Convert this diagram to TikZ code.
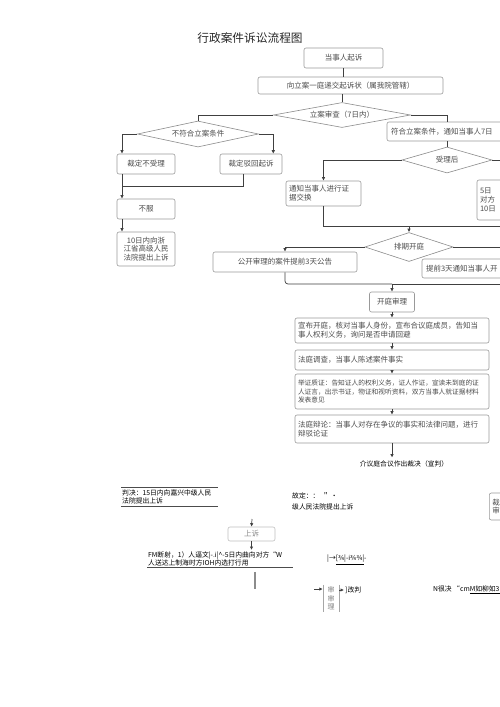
\documentclass[tikz,border=0pt]{standalone}
\usepackage{fontspec}
\setmainfont{Noto Sans CJK SC}
\usepackage{tikz}
\usetikzlibrary{shapes.geometric,positioning,arrows.meta}
\usepackage{xcolor}

\begin{document}
\begin{tikzpicture}[x=1pt, y=-1pt, >={Latex[length=3.5pt,width=3.5pt]},
	box/.style={draw=black!40, rectangle, rounded corners=2pt, line width=0.6pt, text=black!70, inner sep=2pt, font=\fontsize{7.5}{8.7}\selectfont},
	dia/.style={draw=black!45, diamond, line width=0.6pt, text=black!70, inner sep=0pt, font=\fontsize{7.5}{8.7}\selectfont},
	flow/.style={draw=black!75, line width=0.7pt},
	plain/.style={text=black, inner sep=1pt, align=left, font=\fontsize{6.8}{8}\selectfont}]
	\clip (0,0) rectangle (500,707);
	\fill[white] (0,0) rectangle (500,707);
	\node[text=black!85, font=\fontsize{11.7}{12}\selectfont] (title) at (250,38) {行政案件诉讼流程图};

	\node[box, minimum width=79pt, minimum height=20pt] (start) at (343.5,58) {当事人起诉};
	\node[box, minimum width=185pt, minimum height=17pt] (submit) at (350.5,85.5) {向立案一庭递交起诉状（属我院管辖）};
	\node[dia, aspect=5.5, minimum width=137pt, minimum height=25pt] (review) at (342,115) {立案审查（7日内）};
	\node[dia, aspect=4.6, minimum width=121pt, minimum height=26pt] (reject) at (198,134) {不符合立案条件};
	\node[box, minimum width=120pt, minimum height=19pt, text width=112pt, align=left] (accept) at (447,131.5) {符合立案条件，通知当事人7日};
	\node[dia, aspect=3.5, minimum width=90pt, minimum height=26pt] (accepted) at (447,160) {受理后};

	\coordinate (leftrail) at (122,0);
	\coordinate (join1) at (122,186);
	\node[box, minimum width=58pt, minimum height=20pt] (nosue) at (146,164) {裁定不受理};
	\node[box, minimum width=62pt, minimum height=20pt] (dismiss) at (251,164) {裁定驳回起诉};
	\node[box, minimum width=58pt, minimum height=20pt] (refuse) at (146,209) {不服};
	\node[box, minimum width=58pt, minimum height=34pt, align=center] (appeal10) at (146,249) {10日内向浙\\江省高级人民\\法院提出上诉};

	\node[box, minimum width=75pt, minimum height=25pt, text width=69pt, align=left] (exchange) at (323.5,193.5) {通知当事人进行证\\据交换};
	\node[box, minimum width=86pt, minimum height=40pt, text width=80pt, align=left] (notify5) at (520,200) {5日\\对方\\10日};
	\coordinate (merge) at (409,226);
	\node[dia, aspect=3, minimum width=88pt, minimum height=29pt] (schedule) at (409,247) {排期开庭};
	\node[box, minimum width=144pt, minimum height=20pt] (publish) at (285,262) {公开审理的案件提前3天公告};
	\node[box, minimum width=196pt, minimum height=19pt, text width=188pt, align=left] (notice3) at (520,268.5) {提前3天通知当事人开};
	\coordinate (merge2) at (392,284);

	\node[box, minimum width=45pt, minimum height=20pt] (trial) at (392,302) {开庭审理};
	\node[box, below of=trial, node distance=28.5pt, minimum width=194pt, minimum height=25pt, text width=188pt, align=left] (announce) {宣布开庭，核对当事人身份，宣布合议庭成员，告知当\\事人权利义务，询问是否申请回避};
	\node[box, below of=announce, node distance=29.5pt, minimum width=194pt, minimum height=20pt, text width=188pt, align=left] (investigate) {法庭调查，当事人陈述案件事实};
	\node[box, below of=investigate, node distance=31.5pt, minimum width=194pt, minimum height=35pt, text width=188pt, align=left, font=\fontsize{6.7}{8.2}\selectfont] (evidence) {举证质证：告知证人的权利义务，证人作证，宣读未到庭的证\\人证言，出示书证，物证和视听资料，双方当事人就证据材料\\发表意见};
	\node[box, below of=evidence, node distance=37.5pt, minimum width=194pt, minimum height=28pt, text width=188pt, align=left] (debate) {法庭辩论：当事人对存在争议的事实和法律问题，进行\\辩驳论证};
	\node[plain, inner sep=0pt] (verdict) at (404,464) {介议庭合议作出裁决（宣判）};

	\draw[flow] (start.south) -- (start.south |- submit.north);
	\draw[flow] (submit.south -| review) -- (review.north);
	\draw[flow] (review.west) -| (reject.north);
	\draw[flow] (review.east) -| (accept.north);
	\draw[flow] (accept.south) -- (accepted.north);
	\draw[flow,->] (reject.west) -| (leftrail |- nosue.north);
	\draw[flow,->] (reject.east) -| ([xshift=-9pt]dismiss.north east);
	\draw[flow,->] (leftrail |- nosue.south) -- (leftrail |- refuse.north);
	\draw[flow] ([xshift=-39pt]dismiss.south east) |- (join1);
	\draw[flow,->] (leftrail |- refuse.south) -- (leftrail |- appeal10.north);
	\draw[flow,->] (accepted.west) -| (exchange.north);
	\draw[flow,->] (accepted.east) -| (notify5.north);
	\draw[flow] (exchange.south) |- (merge);
	\draw[flow] (notify5.south) |- (merge);
	\draw[flow,->] (merge) -- (schedule.north);
	\draw[flow,->] (schedule.west) -| (publish.north);
	\draw[flow] (schedule.east) -| (notice3.north);
	\draw[flow, rounded corners=3pt] (publish.south) |- (merge2);
	\draw[flow] (notice3.south) |- (merge2);
	\draw[flow,->] (merge2) -- (trial.north);
	\draw[flow,->] (trial) -- (announce);
	\draw[flow,->] (announce) -- (investigate);
	\draw[flow,->] (investigate) -- (evidence);
	\draw[flow,->] (evidence) -- (debate);
	\draw[flow, line width=1pt, ->] (debate.south) -- ([yshift=3pt]debate.south |- verdict.north);

	\node[plain, anchor=north west, text width=95pt, inner ysep=2.5pt] (judgement) at (121,487) {判决：15日内向嘉兴中级人民\\法院提出上诉};
	\draw[black!70, line width=0.6pt] (judgement.north west) -- (judgement.north east);
	\draw[black!70, line width=0.6pt] (judgement.south west) -- (judgement.south east);
	\node[plain, anchor=north west] (ruling) at (291,491) {故定：：\ \ ＂\ •\\[3.5pt]级人民法院提出上诉};
	\node[box, anchor=west, minimum width=40pt, minimum height=27pt, text width=34pt, align=left] (rehear) at (489,506.5) {裁\\审};

	\coordinate (appealin) at (252,519);
	\node[box, draw=black!25, text=black!45, minimum width=47pt, minimum height=14pt, inner sep=1pt] (appeal) at (251.5,534) {上诉};
	\node[plain, anchor=north west, text width=144pt] (fmtext) at (147,550) {FM断射，1）人逼文|-.i|\textasciicircum-5日内曲向对方“W\\人送达上制海时方IOH内选打行用};
	\draw[flow,->] (appealin) -- (appeal.north);
	\draw[flow, line width=1pt, ->] (appeal.south) -- (appeal.south |- fmtext.north);
	\draw[black!70, line width=0.6pt] (fmtext.south west) -- (fmtext.south east);
	\coordinate (stub) at (255,589);
	\draw[black!45, line width=1.2pt, shorten <=5pt] (stub |- fmtext.south) -- (stub);

	\node[plain, anchor=west] (symbols) at (326,560) {|→\underline{[¾|-i¾¾|}-};
	\node[text=black!50, inner sep=1pt, align=center, minimum width=16pt, minimum height=27pt, font=\fontsize{7}{8.6}\selectfont] (retrial) at (331,598.5) {审\\审\\理};
	\draw[black!35, line width=0.6pt] (retrial.north west) -- (retrial.south west);
	\draw[black!35, line width=0.6pt] (retrial.north east) -- (retrial.south east);
	\coordinate (retrialin) at (314,589);
	\node[plain, anchor=west] (amend) at (344,590) {]改判};
	\draw[flow,->] (retrialin) -- (retrialin -| retrial.west);
	\draw[flow,->] (retrial.east |- amend) -- (amend.west);
	\node[plain, anchor=west] (nverdict) at (432,590) {N很决\ “cm\underline{M如柳如3}};
\end{tikzpicture}
\end{document}
